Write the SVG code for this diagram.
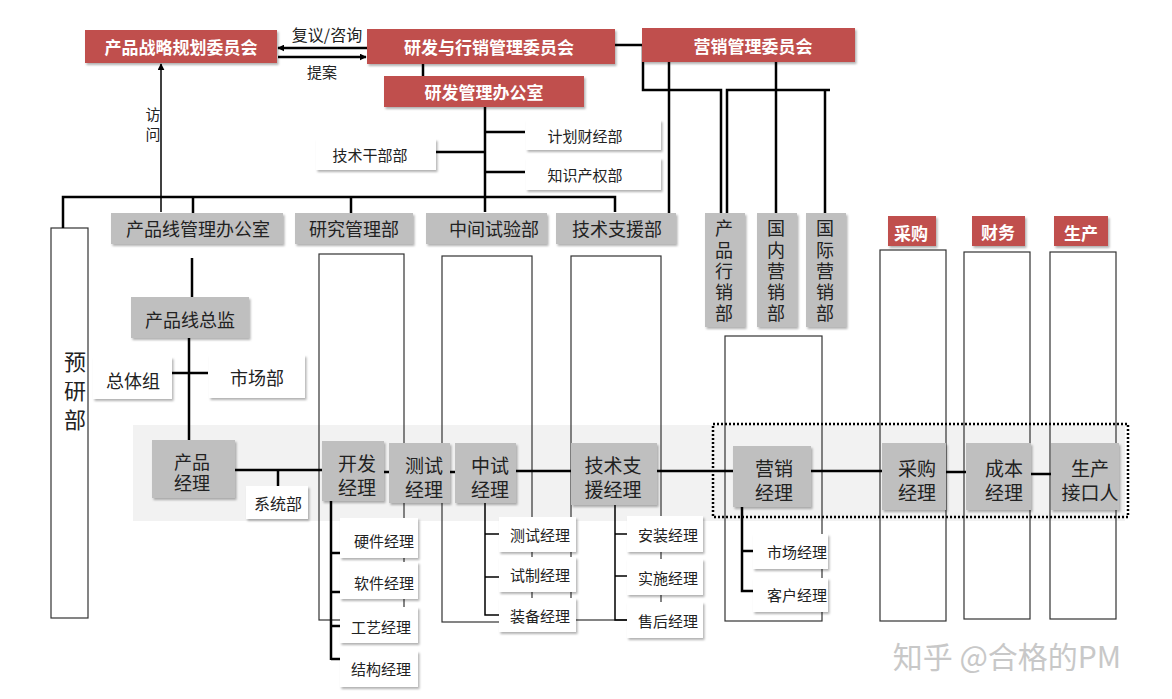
<svg xmlns="http://www.w3.org/2000/svg" width="1172" height="699" viewBox="0 0 1172 699">
<style>
text{font-family:"Noto Sans CJK SC","Liberation Sans",sans-serif;text-anchor:middle;dominant-baseline:central;fill:#222}
.red rect{fill:#c0504d;filter:url(#sh)}
.red text{fill:#fff;font-weight:bold;font-size:17px}
.g rect{fill:#bfbfbf;filter:url(#sh)}
.g text{font-size:18px}
.m rect{fill:#bfbfbf;filter:url(#sh)}
.m text{font-size:19px}
.w rect{fill:#fff;filter:url(#sh)}
.w text{font-size:15px}
.w text.big{font-size:18px}
.w text.mid{font-size:16px}
.col{fill:none;stroke:#333;stroke-width:1.2}
.c line,.c path{stroke:#000;stroke-width:2.5;fill:none}
.thin{stroke-width:1.5!important}
</style>
<defs>
<filter id="sh" x="-10%" y="-10%" width="130%" height="130%"><feDropShadow dx="1.5" dy="2" stdDeviation="1.2" flood-color="#000" flood-opacity="0.3"/></filter>
<marker id="ar" viewBox="0 0 10 10" refX="9" refY="5" markerWidth="7" markerHeight="7" markerUnits="userSpaceOnUse" orient="auto"><path d="M0,0L10,5L0,10z" fill="#000"/></marker>
</defs>
<rect x="133" y="425" width="992" height="96" fill="#f2f2f2"/>
<g id="columns">
<rect class="col" x="51" y="228" width="37" height="390"/>
<rect class="col" x="319" y="254" width="85" height="366"/>
<rect class="col" x="442" y="256" width="90" height="366"/>
<rect class="col" x="571" y="256" width="90" height="364"/>
<rect class="col" x="725" y="336" width="97" height="285"/>
<rect class="col" x="880" y="250" width="66" height="371"/>
<rect class="col" x="964" y="252" width="66" height="367"/>
<rect class="col" x="1050" y="252" width="66" height="367"/>
</g>
<rect x="713" y="424" width="415" height="93" fill="none" stroke="#000" stroke-width="2.5" stroke-dasharray="2 2"/>
<g id="connectors" class="c">
<line x1="367" y1="48" x2="278" y2="48" marker-end="url(#ar)"/>
<line x1="278" y1="57" x2="366" y2="57" marker-end="url(#ar)"/>
<line class="thin" x1="161" y1="212" x2="161" y2="64" marker-end="url(#ar)"/>
<line x1="423" y1="64" x2="423" y2="76"/>
<line x1="485" y1="107" x2="485" y2="212"/>
<line x1="485" y1="132" x2="525" y2="132"/>
<line x1="436" y1="152" x2="485" y2="152"/>
<line x1="485" y1="172" x2="525" y2="172"/>
<path d="M63,228V197H615V212"/>
<line x1="193" y1="197" x2="193" y2="213"/>
<line x1="351" y1="197" x2="351" y2="213"/>
<line x1="669" y1="62" x2="669" y2="213"/>
<path d="M615,45H643V90H721V213"/>
<path d="M727,213V90H830"/>
<line x1="776" y1="62" x2="776" y2="213"/>
<line x1="825" y1="90" x2="825" y2="213"/>
<line x1="192" y1="258" x2="192" y2="297"/>
<line x1="189" y1="338" x2="189" y2="440"/>
<line x1="167" y1="373" x2="208" y2="373"/>
<line x1="235" y1="470" x2="322" y2="470"/>
<line x1="278" y1="470" x2="278" y2="486"/>
<line x1="384" y1="472" x2="389" y2="472"/>
<line x1="450" y1="472" x2="455" y2="472"/>
<line x1="516" y1="471" x2="571" y2="471"/>
<line x1="657" y1="471" x2="733" y2="471"/>
<line x1="811" y1="471" x2="882" y2="471"/>
<line x1="946" y1="472" x2="966" y2="472"/>
<line x1="1031" y1="474" x2="1051" y2="474"/>
<line x1="331" y1="501" x2="331" y2="660"/>
<line x1="331" y1="553" x2="340" y2="553"/>
<line x1="331" y1="592" x2="340" y2="592"/>
<line x1="331" y1="626" x2="340" y2="626"/>
<line x1="331" y1="659" x2="340" y2="659"/>
<path class="thin" d="M485,503V615H499M485,534H499M485,577H499"/>
<path class="thin" d="M615,505V620H627M615,534H627M615,576H627"/>
<path d="M742,507V591H753M742,551H753"/>
</g>
<text x="327" y="34" font-size="16">复议/咨询</text>
<text x="322" y="71" font-size="15">提案</text>
<text x="153" y="113" font-size="15">访</text>
<text x="153" y="133" font-size="15">问</text>
<g id="n1" class="red"><rect x="85" y="30" width="192" height="33"/><text x="181" y="46">产品战略规划委员会</text></g>
<g id="n2" class="red"><rect x="367" y="29" width="248" height="35"/><text x="489" y="46">研发与行销管理委员会</text></g>
<g id="n3" class="red"><rect x="642" y="28" width="213" height="34"/><text x="753" y="45">营销管理委员会</text></g>
<g id="n4" class="red"><rect x="384" y="76" width="200" height="31"/><text x="484" y="91">研发管理办公室</text></g>
<g id="n5" class="w"><rect x="526" y="120" width="135" height="30"/><text x="585" y="135">计划财经部</text></g>
<g id="n6" class="w"><rect x="316" y="139" width="120" height="31"/><text x="370" y="154">技术干部部</text></g>
<g id="n7" class="w"><rect x="526" y="158" width="135" height="32"/><text x="585" y="174">知识产权部</text></g>
<g id="n8" class="g"><rect x="111" y="213" width="172" height="31"/><text x="198" y="228">产品线管理办公室</text></g>
<g id="n9" class="g"><rect x="295" y="213" width="118" height="31"/><text x="354" y="228">研究管理部</text></g>
<g id="n10" class="g"><rect x="426" y="213" width="121" height="31"/><text x="494" y="228">中间试验部</text></g>
<g id="n11" class="g"><rect x="556" y="213" width="120" height="31"/><text x="617" y="228">技术支援部</text></g>
<g id="n12" class="g"><rect x="705" y="213" width="40" height="114"/><text x="724" y="227">产</text><text x="724" y="249">品</text><text x="724" y="270">行</text><text x="724" y="291">销</text><text x="724" y="312">部</text></g>
<g id="n13" class="g"><rect x="757" y="213" width="40" height="114"/><text x="776" y="227">国</text><text x="776" y="249">内</text><text x="776" y="270">营</text><text x="776" y="291">销</text><text x="776" y="312">部</text></g>
<g id="n14" class="g"><rect x="806" y="213" width="40" height="114"/><text x="825" y="227">国</text><text x="825" y="249">际</text><text x="825" y="270">营</text><text x="825" y="291">销</text><text x="825" y="312">部</text></g>
<g id="n15" class="red"><rect x="888" y="216" width="48" height="30"/><text x="911" y="232">采购</text></g>
<g id="n16" class="red"><rect x="972" y="216" width="53" height="30"/><text x="998" y="231">财务</text></g>
<g id="n17" class="red"><rect x="1054" y="216" width="54" height="30"/><text x="1081" y="232">生产</text></g>
<g id="n18"><text x="75" y="360" font-size="22">预</text><text x="75" y="389" font-size="22">研</text><text x="75" y="418" font-size="22">部</text></g>
<g id="n19" class="g"><rect x="131" y="297" width="118" height="41"/><text x="190" y="319">产品线总监</text></g>
<g id="n20" class="w"><rect x="93" y="357" width="79" height="42"/><text class="big" x="133" y="380">总体组</text></g>
<g id="n21" class="w"><rect x="209" y="355" width="96" height="43"/><text class="big" x="257" y="377">市场部</text></g>
<g id="n22" class="g"><rect x="152" y="440" width="83" height="58"/><text x="192" y="461">产品</text><text x="192" y="482">经理</text></g>
<g id="n23" class="w"><rect x="246" y="486" width="62" height="33"/><text class="mid" x="278" y="503">系统部</text></g>
<g id="n24" class="m"><rect x="322" y="441" width="62" height="60"/><text x="357" y="462">开发</text><text x="357" y="486">经理</text></g>
<g id="n25" class="m"><rect x="389" y="443" width="61" height="60"/><text x="424" y="464">测试</text><text x="424" y="488">经理</text></g>
<g id="n26" class="m"><rect x="455" y="443" width="61" height="60"/><text x="490" y="464">中试</text><text x="490" y="488">经理</text></g>
<g id="n27" class="m"><rect x="571" y="443" width="86" height="62"/><text x="613" y="464">技术支</text><text x="613" y="488">援经理</text></g>
<g id="n28" class="m"><rect x="733" y="446" width="78" height="61"/><text x="774" y="467">营销</text><text x="774" y="491">经理</text></g>
<g id="n29" class="m"><rect x="882" y="443" width="64" height="67"/><text x="917" y="467">采购</text><text x="917" y="491">经理</text></g>
<g id="n30" class="m"><rect x="966" y="443" width="65" height="67"/><text x="1004" y="467">成本</text><text x="1004" y="491">经理</text></g>
<g id="n31" class="m"><rect x="1051" y="443" width="68" height="67"/><text x="1090" y="467">生产</text><text x="1090" y="491">接口人</text></g>
<g id="n32" class="w"><rect x="340" y="518" width="78" height="40"/><text x="384" y="540">硬件经理</text></g>
<g id="n33" class="w"><rect x="340" y="562" width="78" height="37"/><text x="384" y="582">软件经理</text></g>
<g id="n34" class="w"><rect x="340" y="607" width="78" height="36"/><text x="381" y="626">工艺经理</text></g>
<g id="n35" class="w"><rect x="340" y="651" width="78" height="36"/><text x="381" y="668">结构经理</text></g>
<g id="n36" class="w"><rect x="499" y="517" width="77" height="35"/><text x="540" y="534">测试经理</text></g>
<g id="n37" class="w"><rect x="499" y="557" width="77" height="35"/><text x="540" y="574">试制经理</text></g>
<g id="n38" class="w"><rect x="499" y="598" width="77" height="34"/><text x="540" y="615">装备经理</text></g>
<g id="n39" class="w"><rect x="627" y="516" width="76" height="36"/><text x="668" y="534">安装经理</text></g>
<g id="n40" class="w"><rect x="627" y="559" width="76" height="36"/><text x="668" y="577">实施经理</text></g>
<g id="n41" class="w"><rect x="627" y="602" width="76" height="36"/><text x="668" y="620">售后经理</text></g>
<g id="n42" class="w"><rect x="753" y="534" width="75" height="35"/><text x="797" y="551">市场经理</text></g>
<g id="n43" class="w"><rect x="753" y="578" width="75" height="34"/><text x="797" y="594">客户经理</text></g>
<text x="1007" y="655" font-size="30" style="fill:#c8c8c8">知乎 @合格的PM</text>
</svg>
